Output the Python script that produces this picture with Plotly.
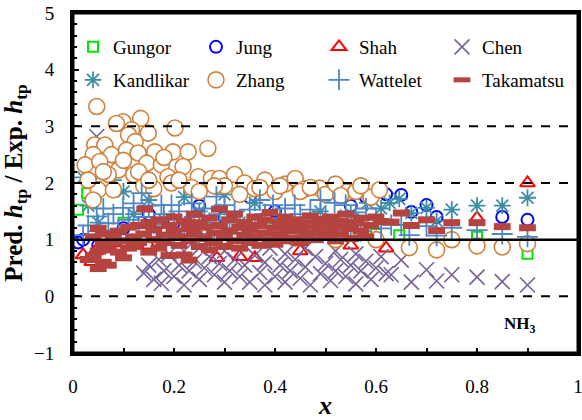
import plotly.graph_objects as go

# ---------------- data ----------------
gungor_x = [0.010, 0.028, 0.10, 0.20, 0.30, 0.40, 0.50, 0.60, 0.646, 0.80, 0.90]
gungor_y = [1.53, 1.82, 1.30, 1.10, 1.40, 1.20, 1.30, 1.10, 1.08, 1.05, 0.75]

jung_x = [0.010, 0.020, 0.05, 0.10, 0.15, 0.20, 0.25, 0.30, 0.35, 0.40, 0.45, 0.518,
          0.55, 0.58, 0.62, 0.65, 0.67, 0.70, 0.72, 0.85, 0.90]
jung_y = [0.95, 1.00, 0.90, 1.20, 1.45, 1.30, 1.60, 1.40, 1.75, 1.50, 1.85, 2.00,
          1.60, 1.75, 1.80, 1.79, 1.49, 1.61, 1.40, 1.40, 1.35]

shah_x = [0.020, 0.037, 0.045, 0.065, 0.083, 0.15, 0.285, 0.33, 0.36, 0.45, 0.55, 0.62, 0.80, 0.90]
shah_y = [0.73, 0.61, 0.80, 0.85, 0.94, 0.90, 0.68, 0.70, 0.68, 0.80, 0.90, 0.85, 1.38, 2.00]

chen_x = [0.047, 0.14, 0.15, 0.16, 0.175, 0.17, 0.18, 0.19, 0.20, 0.21, 0.22, 0.22, 0.23, 0.24,
          0.25, 0.25, 0.26, 0.27, 0.28, 0.29, 0.30, 0.30, 0.31, 0.32, 0.33, 0.34, 0.34, 0.35,
          0.36, 0.37, 0.38, 0.38, 0.39, 0.40, 0.41, 0.42, 0.42, 0.43, 0.44, 0.45, 0.46, 0.46,
          0.47, 0.48, 0.49, 0.50, 0.51, 0.52, 0.52, 0.53, 0.54, 0.55, 0.56, 0.56, 0.57, 0.58,
          0.59, 0.60, 0.61, 0.62, 0.63, 0.65, 0.67, 0.70, 0.72, 0.75, 0.80, 0.85, 0.90]
chen_y = [2.82, 0.41, 0.55, 0.30, 0.23, 0.65, 0.45, 0.75, 0.35, 0.55, 0.20, 0.80, 0.45, 0.62,
          0.30, 0.85, 0.50, 0.70, 0.38, 0.58, 0.25, 0.80, 0.45, 0.65, 0.35, 0.90, 0.55, 0.25,
          0.72, 0.42, 0.60, 0.20, 0.85, 0.35, 0.55, 0.75, 0.25, 0.45, 0.65, 0.32, 0.85, 0.52,
          0.20, 0.70, 0.40, 0.58, 0.28, 0.80, 0.45, 0.65, 0.35, 0.55, 0.22, 0.75, 0.45, 0.62,
          0.30, 0.50, 0.70, 0.40, 0.38, 0.64, 0.25, 0.47, 0.27, 0.38, 0.34, 0.26, 0.20]

kandlikar_x = [0.02, 0.04, 0.03, 0.05, 0.08, 0.10, 0.12, 0.15, 0.18, 0.20, 0.22, 0.25, 0.28,
               0.30, 0.33, 0.36, 0.40, 0.43, 0.46, 0.49, 0.52, 0.55, 0.583, 0.61, 0.627,
               0.646, 0.67, 0.70, 0.72, 0.75, 0.80, 0.85, 0.90]
kandlikar_y = [2.10, 2.02, 1.60, 1.30, 2.05, 1.85, 1.45, 1.70, 1.35, 1.10, 1.75, 1.50, 0.95,
               1.80, 1.30, 1.65, 1.85, 1.05, 1.90, 1.50, 1.85, 1.45, 1.65, 1.55, 1.65,
               1.72, 1.47, 1.56, 1.33, 1.53, 1.60, 1.60, 1.74]

zhang_x = [0.047, 0.099, 0.134, 0.086, 0.202, 0.116, 0.149, 0.110, 0.043, 0.063, 0.123, 0.076,
           0.040, 0.106, 0.129, 0.162, 0.198, 0.228, 0.267, 0.024, 0.053, 0.090, 0.146, 0.175,
           0.218, 0.188, 0.120, 0.070, 0.248, 0.274, 0.290, 0.320, 0.050, 0.040, 0.080, 0.140,
           0.160, 0.195, 0.235, 0.030, 0.060, 0.100, 0.130, 0.180, 0.210, 0.300, 0.340, 0.360,
           0.380, 0.400, 0.420, 0.440, 0.460, 0.488, 0.500, 0.520, 0.543, 0.560, 0.590, 0.607,
           0.330, 0.370, 0.410, 0.450, 0.470, 0.530, 0.570, 0.440, 0.520, 0.480, 0.600, 0.666,
           0.720, 0.750, 0.800, 0.850, 0.900, 0.250, 0.280, 0.150]
zhang_y = [3.35, 3.08, 3.14, 3.05, 2.97, 2.94, 2.88, 2.85, 2.67, 2.67, 2.73, 2.50,
           2.50, 2.58, 2.53, 2.55, 2.55, 2.55, 2.61, 2.32, 2.38, 2.23, 2.35, 2.32,
           2.29, 2.11, 2.15, 2.15, 2.11, 2.08, 2.08, 2.15, 1.88, 1.70, 1.88, 1.95,
           1.90, 2.00, 1.92, 2.05, 2.20, 2.40, 2.20, 2.45, 2.05, 1.95, 2.00, 1.90,
           2.05, 1.85, 1.98, 2.08, 1.90, 1.91, 1.80, 1.98, 1.84, 1.85, 1.75, 1.88,
           1.80, 1.92, 1.95, 1.85, 1.92, 1.78, 1.95, 1.03, 1.00, 1.10, 1.00, 0.86,
           0.82, 1.00, 0.89, 0.87, 0.93, 1.85, 1.95, 2.05]

wattelet_x = [0.02, 0.03, 0.047, 0.05, 0.06, 0.07, 0.08, 0.09, 0.099, 0.11, 0.12, 0.13, 0.136,
              0.14, 0.15, 0.16, 0.175, 0.18, 0.195, 0.20, 0.21, 0.22, 0.235, 0.24, 0.25, 0.26,
              0.27, 0.284, 0.29, 0.30, 0.31, 0.32, 0.33, 0.35, 0.36, 0.37, 0.38, 0.396, 0.40,
              0.41, 0.42, 0.439, 0.44, 0.45, 0.46, 0.47, 0.48, 0.49, 0.50, 0.518, 0.52, 0.53,
              0.54, 0.55, 0.56, 0.57, 0.58, 0.60, 0.61, 0.63, 0.65, 0.666, 0.70, 0.72, 0.75,
              0.80, 0.85, 0.90]
wattelet_y = [1.08, 1.25, 1.41, 1.15, 1.55, 1.29, 1.45, 1.17, 1.56, 1.35, 1.64, 1.20, 1.82,
              1.40, 1.60, 1.28, 1.61, 1.45, 1.61, 1.30, 1.50, 1.20, 1.64, 1.40, 1.10, 1.55,
              1.30, 1.76, 1.45, 1.61, 1.20, 1.50, 1.35, 1.53, 1.25, 1.70, 1.45, 1.61, 1.20,
              1.38, 1.55, 1.61, 1.28, 1.45, 1.17, 1.53, 1.30, 1.70, 1.40, 1.65, 1.12, 1.35,
              1.61, 1.25, 1.48, 1.15, 1.55, 1.35, 1.20, 1.26, 1.26, 1.08, 1.24, 1.07, 1.21,
              1.17, 1.10, 1.05]

takamatsu_x = [0.03, 0.04, 0.05, 0.06, 0.07, 0.05, 0.06, 0.07, 0.08, 0.09, 0.10, 0.04, 0.05,
               0.06, 0.08, 0.09, 0.10, 0.11, 0.11, 0.12, 0.12, 0.13, 0.13, 0.142, 0.14, 0.15,
               0.15, 0.16, 0.16, 0.17, 0.17, 0.18, 0.18, 0.19, 0.19, 0.20, 0.20, 0.21, 0.21,
               0.22, 0.22, 0.23, 0.23, 0.23, 0.24, 0.24, 0.25, 0.25, 0.26, 0.26, 0.27, 0.27,
               0.28, 0.28, 0.29, 0.29, 0.30, 0.30, 0.31, 0.31, 0.32, 0.32, 0.33, 0.33, 0.34,
               0.34, 0.35, 0.35, 0.36, 0.36, 0.37, 0.37, 0.38, 0.38, 0.39, 0.39, 0.40, 0.40,
               0.41, 0.41, 0.42, 0.42, 0.43, 0.43, 0.44, 0.44, 0.45, 0.45, 0.46, 0.46, 0.47,
               0.47, 0.48, 0.48, 0.49, 0.49, 0.50, 0.50, 0.51, 0.51, 0.52, 0.52, 0.53, 0.53,
               0.54, 0.55, 0.55, 0.56, 0.57, 0.57, 0.58, 0.59, 0.60, 0.61, 0.63, 0.65, 0.67,
               0.70, 0.72, 0.75, 0.80, 0.85, 0.90]
takamatsu_y = [0.65, 0.72, 0.49, 0.60, 0.55, 0.80, 0.92, 0.82, 0.95, 0.78, 0.68, 1.05, 1.20,
               1.10, 1.05, 1.15, 0.98, 1.22, 0.85, 1.05, 0.88, 1.25, 0.95, 1.54, 1.10, 0.78,
               1.30, 1.00, 1.18, 0.85, 1.35, 1.08, 0.95, 1.25, 0.72, 1.15, 1.40, 0.90, 1.05,
               1.32, 0.73, 1.20, 0.64, 0.98, 1.45, 1.10, 0.88, 1.30, 1.02, 1.22, 0.82, 1.38,
               1.12, 0.95, 1.54, 1.25, 1.05, 0.88, 1.35, 1.15, 0.98, 1.45, 1.22, 0.85, 1.08,
               1.30, 1.18, 0.95, 1.40, 1.05, 1.25, 0.90, 1.12, 1.35, 1.00, 1.48, 1.20, 0.92,
               1.30, 1.08, 1.40, 0.98, 1.15, 1.25, 1.02, 1.35, 1.18, 0.95, 1.30, 1.08, 1.42,
               1.12, 1.00, 1.25, 1.35, 1.15, 1.05, 1.28, 1.40, 1.12, 0.98, 1.22, 1.32, 1.10,
               1.45, 1.20, 1.02, 1.30, 1.38, 1.15, 1.05, 1.25, 1.40, 1.32, 1.31, 1.47, 1.25,
               1.35, 1.16, 1.30, 1.30, 1.23, 1.21]

x_tickvals = [0, 0.2, 0.4, 0.6, 0.8, 1]
x_ticktext = ["0", "0.2", "0.4", "0.6", "0.8", "1"]
y_tickvals = [-1, 0, 1, 2, 3, 4, 5]
ref_dashed = [0, 2, 3]
ref_solid = [1]

# ---------------- figure ----------------
FONT = "Times New Roman"
fig = go.Figure()

def add(name, xs, ys, symbol, size, color, lw, legend, fill=None):
    fig.add_trace(go.Scatter(
        x=xs, y=ys, mode="markers", name=name, legend=legend,
        marker=dict(symbol=symbol, size=size,
                    color=fill if fill is not None else color,
                    line=dict(color=color, width=lw)),
    ))

add("Gungor", gungor_x, gungor_y, "square-open", 10, "#00e600", 2, "legend")
add("Jung", jung_x, jung_y, "circle-open", 12, "#0000ff", 2, "legend")
add("Shah", shah_x, shah_y, "triangle-up-open", 13, "#ff0000", 2, "legend")
add("Chen", chen_x, chen_y, "x-thin", 15, "#77609a", 1.6, "legend")
add("Kandlikar", kandlikar_x, kandlikar_y, "asterisk-open", 14, "#3b8ea5", 1.8, "legend2")
add("Zhang", zhang_x, zhang_y, "circle", 16, "#d0813c", 1.6, "legend2", fill="white")
add("Wattelet", wattelet_x, wattelet_y, "cross-thin", 15, "#4c86c6", 1.8, "legend2")
add("Takamatsu", takamatsu_x, takamatsu_y, "line-ew", 12, "#b5433f", 7, "legend2")

shapes = []
for v in ref_dashed:
    shapes.append(dict(type="line", xref="x domain", yref="y", x0=0, x1=1, y0=v, y1=v,
                       line=dict(color="black", width=2, dash="dash"), layer="above"))
for v in ref_solid:
    shapes.append(dict(type="line", xref="x domain", yref="y", x0=0, x1=1, y0=v, y1=v,
                       line=dict(color="black", width=2.5), layer="above"))
# frame of the plotting area
shapes.append(dict(type="rect", xref="x domain", yref="y domain", x0=0, x1=1, y0=0, y1=1,
                   line=dict(color="black", width=3), layer="above"))

legend_common = dict(orientation="h", font=dict(family=FONT, size=19, color="black"),
                     bgcolor="rgba(0,0,0,0)", entrywidth=78, entrywidthmode="pixels",
                     itemwidth=30, xanchor="left", yanchor="middle", traceorder="normal")

fig.update_layout(
    width=582, height=420,
    margin=dict(l=73, r=4, t=13, b=67, autoexpand=False),
    paper_bgcolor="white", plot_bgcolor="white",
    font=dict(family=FONT, size=18, color="black"),
    shapes=shapes,
    legend=dict(x=0.0, y=0.90, **legend_common),
    legend2=dict(x=0.0, y=0.803, **legend_common),
    annotations=[dict(x=0.885, y=-0.5, xref="x", yref="y", text="<b>NH<sub>3</sub></b>",
                      showarrow=False, font=dict(family=FONT, size=17, color="black"))],
)
fig.update_xaxes(
    range=[0, 1], tickvals=x_tickvals, ticktext=x_ticktext,
    ticks="inside", ticklen=5, tickwidth=2, tickcolor="black",
    minor=dict(dtick=0.1, ticks="inside", ticklen=5, tickwidth=2, tickcolor="black"),
    showline=True, linewidth=3, linecolor="black", mirror=True,
    showgrid=False, zeroline=False, ticklabelstandoff=14, ticklabeloverflow="allow",
    tickfont=dict(family=FONT, size=19),
    title=dict(text="<b><i>x</i></b>", font=dict(family=FONT, size=26), standoff=4),
)
fig.update_yaxes(
    range=[-1, 5], tickvals=y_tickvals,
    ticks="inside", ticklen=6, tickwidth=2, tickcolor="black",
    minor=dict(dtick=0.2, ticks="inside", ticklen=4, tickwidth=1.5, tickcolor="black"),
    showline=True, linewidth=3, linecolor="black", mirror=True,
    showgrid=False, zeroline=False, ticklabelstandoff=12,
    tickfont=dict(family=FONT, size=19),
    title=dict(text="<b>Pred. <i>h</i><sub>tp</sub> / Exp. <i>h</i><sub>tp</sub></b>",
               font=dict(family=FONT, size=25), standoff=10),
)

fig.write_html("out.html", config={"displayModeBar": False},
               post_script="document.body.style.margin='0';document.body.style.padding='0';"
                           "document.body.style.overflow='hidden';")
